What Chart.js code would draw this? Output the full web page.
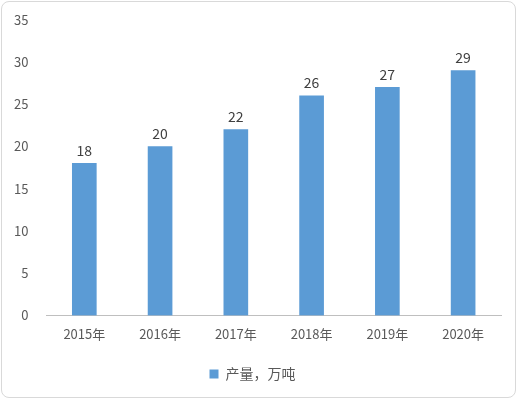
<!DOCTYPE html>
<html>
<head>
<meta charset="utf-8">
<script src="https://cdn.jsdelivr.net/npm/chart.js@4"></script>
<style>
  html, body { margin: 0; padding: 0; background: #fff; }
  #wrap { position: absolute; left: 1px; top: 1px; width: 515px; height: 397px;
          border: 1px solid #d9d9d9; border-radius: 8px; box-sizing: border-box; }
  canvas { position: absolute; left: 0; top: 0; }
</style>
</head>
<body>
<div id="wrap"><canvas id="graphCanvas"></canvas></div>
<script>
const years = ["2015年", "2016年", "2017年", "2018年", "2019年", "2020年"];
const output = [18, 20, 22, 26, 27, 29];
const yTicks = [0, 5, 10, 15, 20, 25, 30, 35];

const font = "'Noto Sans CJK SC', 'Noto Sans', sans-serif";

// value labels above the bars
const barLabels = {
  id: "barLabels",
  afterDatasetsDraw(chart) {
    const ctx = chart.ctx;
    ctx.save();
    ctx.font = "14px " + font;
    ctx.fillStyle = "#404040";
    ctx.textAlign = "center";
    ctx.textBaseline = "bottom";
    chart.getDatasetMeta(0).data.forEach((bar, i) => {
      ctx.fillText(output[i], bar.x, bar.y - 6);
    });
    ctx.restore();
  }
};

const canvas = document.getElementById("graphCanvas");
canvas.width = 513; canvas.height = 395;
const chart = new Chart(canvas.getContext("2d"), {
  type: "bar",
  data: {
    labels: years,
    datasets: [{
      label: "产量，万吨",
      data: output,
      backgroundColor: "#5b9bd5",
      barThickness: 24
    }]
  },
  options: {
    responsive: false,
    animation: false,
    layout: { padding: { left: 2, right: 14, top: 8, bottom: 6 } },
    plugins: {
      tooltip: { enabled: false },
      legend: {
        position: "bottom",
        labels: { font: { family: font, size: 14 }, color: "#595959",
                  boxWidth: 9, boxHeight: 9, padding: 22 }
      }
    },
    scales: {
      x: {
        grid: { display: false },
        border: { color: "#bfbfbf" },
        ticks: { font: { family: font, size: 13 }, color: "#595959", maxRotation: 0 }
      },
      y: {
        min: 0, max: 35,
        afterBuildTicks(axis) { axis.ticks = yTicks.map(v => ({ value: v })); },
        grid: { display: false },
        border: { display: false },
        ticks: { font: { family: font, size: 13 }, color: "#595959", padding: 10 }
      }
    }
  },
  plugins: [barLabels]
});
</script>
</body>
</html>
